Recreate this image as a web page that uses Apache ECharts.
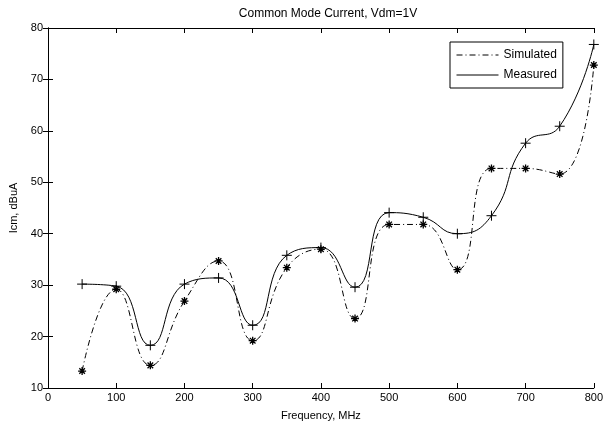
<!DOCTYPE html>
<html>
<head>
    <meta charset="utf-8" />
    <title>Common Mode Current</title>
    <style>
        html, body { margin: 0; padding: 0; background: #fff; }
    </style>
</head>
<body>
    <div id="divChart" style="width:606px;height:426px;"></div>

    <script src="https://cdn.jsdelivr.net/npm/echarts@6/dist/echarts.min.js"></script>
    <script>
        // frequencies in MHz
        var freq = [50, 100, 150, 200, 250, 300, 350, 400, 450, 500, 550, 600, 650, 700, 750, 800];
        var simulated = [13.3, 29.2, 14.4, 26.9, 34.7, 19.2, 33.4, 37.0, 23.5, 41.8, 41.8, 33.0, 52.7, 52.7, 51.6, 72.8];
        var measured = [30.2, 29.8, 18.3, 30.2, 31.4, 22.2, 35.8, 37.3, 29.6, 44.1, 43.2, 40.0, 43.5, 57.6, 60.9, 76.8];

        var plusSym = 'path://M5,0L5,10M0,5L10,5';
        var starSym = 'path://M5,0L5,10M0,5L10,5M1.5,1.5L8.5,8.5M8.5,1.5L1.5,8.5';
        var font = 'Liberation Sans';

        function pairs(xs, ys) {
            return xs.map(function (x, i) { return [x, ys[i]]; });
        }

        var myChart = echarts.init(document.getElementById('divChart'));

        var boxAxis = {
            axisLine: { show: true, lineStyle: { color: '#000', width: 1 } },
            axisTick: { show: true, inside: true, length: 5, lineStyle: { color: '#000' } },
            splitLine: { show: false }
        };

        var option = {
            animation: false,
            backgroundColor: '#fff',
            textStyle: { fontFamily: font },
            title: {
                text: 'Common Mode Current, Vdm=1V',
                left: 323,
                textAlign: 'center',
                top: 3,
                textStyle: { fontSize: 12, fontWeight: 'normal', color: '#000', fontFamily: font }
            },
            grid: { left: 48, right: 7, top: 28, bottom: 37 },
            legend: {
                orient: 'vertical',
                left: 450,
                top: 42,
                width: 110,
                padding: [7, 6, 7, 6],
                itemGap: 8,
                itemWidth: 42,
                itemHeight: 10,
                borderColor: '#000',
                borderWidth: 1,
                backgroundColor: '#fff',
                borderRadius: 0,
                itemStyle: { opacity: 0 },
                lineStyle: { width: 1 },
                textStyle: { fontSize: 12, color: '#000', fontFamily: font },
                data: ['Simulated', 'Measured']
            },
            xAxis: [
                Object.assign({}, boxAxis, {
                    type: 'value', min: 0, max: 800, interval: 100,
                    name: 'Frequency, MHz', nameLocation: 'middle', nameGap: 22,
                    nameTextStyle: { fontSize: 11, color: '#000' },
                    axisLabel: { color: '#000', fontSize: 11, margin: 4 }
                }),
                Object.assign({}, boxAxis, {
                    type: 'value', min: 0, max: 800, interval: 100, position: 'top',
                    axisLabel: { show: false }
                })
            ],
            yAxis: [
                Object.assign({}, boxAxis, {
                    type: 'value', min: 10, max: 80, interval: 10,
                    name: 'Icm, dBuA', nameLocation: 'middle', nameGap: 27,
                    nameTextStyle: { fontSize: 11, color: '#000' },
                    axisLabel: { color: '#000', fontSize: 11, margin: 5 }
                }),
                Object.assign({}, boxAxis, {
                    type: 'value', min: 10, max: 80, interval: 10, position: 'right',
                    axisLabel: { show: false }
                })
            ],
            series: [
                {
                    name: 'Simulated',
                    type: 'line',
                    smooth: 0.5,
                    data: pairs(freq, simulated),
                    symbol: starSym,
                    symbolSize: 8,
                    lineStyle: { color: '#000', width: 1, type: [6, 3, 1, 3] },
                    itemStyle: { color: '#000', borderColor: '#000', borderWidth: 1.3 },
                    z: 3
                },
                {
                    name: 'Measured',
                    type: 'line',
                    smooth: 0.5,
                    data: pairs(freq, measured),
                    symbol: plusSym,
                    symbolSize: 10,
                    lineStyle: { color: '#000', width: 1, type: 'solid' },
                    itemStyle: { color: '#000', borderColor: '#000', borderWidth: 1 },
                    z: 4
                }
            ]
        };

        myChart.setOption(option);
    </script>
</body>
</html>
